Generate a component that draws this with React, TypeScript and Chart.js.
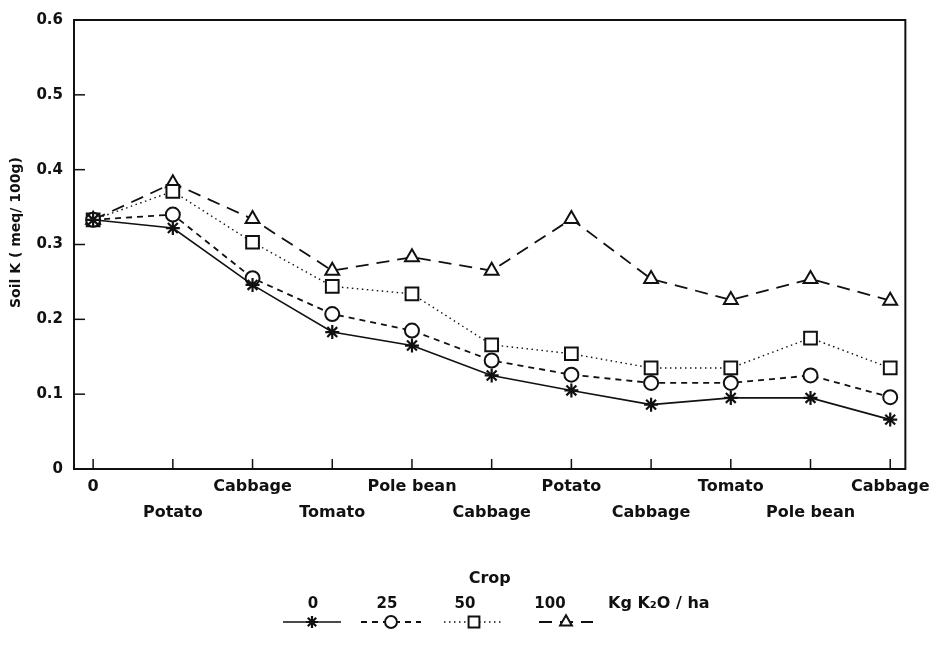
import React, { useEffect, useRef } from "react";
import { Chart, registerables } from "chart.js";
import { drawPoint } from "chart.js/helpers";

Chart.register(...registerables);

// ---- data ----
const cropLabels = ["0", "Potato", "Cabbage", "Tomato", "Pole bean", "Cabbage", "Potato", "Cabbage", "Tomato", "Pole bean", "Cabbage"];
const rate0 = [0.333, 0.322, 0.246, 0.183, 0.165, 0.125, 0.105, 0.086, 0.095, 0.095, 0.066];
const rate25 = [0.333, 0.340, 0.255, 0.207, 0.185, 0.145, 0.126, 0.115, 0.115, 0.125, 0.096];
const rate50 = [0.333, 0.371, 0.303, 0.244, 0.234, 0.166, 0.154, 0.135, 0.135, 0.175, 0.135];
const rate100 = [0.333, 0.382, 0.334, 0.265, 0.283, 0.265, 0.334, 0.254, 0.226, 0.254, 0.225];
const rateLabels = ["0", "25", "50", "100"];
const yTicks = [0, 0.1, 0.2, 0.3, 0.4, 0.5, 0.6];
const yTitle = "Soil K ( meq/ 100g)";
const xTitle = "Crop";
const unitLabel = "Kg K\u2082O / ha";

const FONT = "'DejaVu Sans', sans-serif";
const INK = "#111";

// legend layout (pixels)
const legendTextX = [313, 387, 465, 550];
const legendMarkX = [312, 391, 474, 566];
const legendHalf = [29, 30, 30, 27];
const legendTextY = 604;
const legendLineY = 622;
const unitX = 608;

const toPts = (arr: number[]) => arr.map((y, i) => ({ x: i, y }));

const framePlugin = {
  id: "frameTicksLegend",
  afterDraw(chart: any) {
    const { ctx, chartArea: a, scales } = chart;
    ctx.save();
    ctx.strokeStyle = INK;
    ctx.lineWidth = 2;
    ctx.setLineDash([]);
    ctx.strokeRect(a.left, a.top, a.right - a.left, a.bottom - a.top);
    ctx.lineWidth = 1.5;
    yTicks.forEach((v) => {
      const py = scales.y.getPixelForValue(v);
      ctx.beginPath();
      ctx.moveTo(a.left, py);
      ctx.lineTo(a.left + 11, py);
      ctx.stroke();
    });
    cropLabels.forEach((_, i) => {
      const px = scales.x.getPixelForValue(i);
      ctx.beginPath();
      ctx.moveTo(px, a.bottom);
      ctx.lineTo(px, a.bottom - 10);
      ctx.stroke();
    });

    // y-axis title, drawn slightly above the plot centre as in the original
    ctx.save();
    ctx.fillStyle = INK;
    ctx.font = `bold 14px ${FONT}`;
    ctx.textAlign = "center";
    ctx.textBaseline = "middle";
    ctx.translate(16, scales.y.getPixelForValue(0.316));
    ctx.rotate(-Math.PI / 2);
    ctx.fillText(yTitle, 0, 0);
    ctx.restore();

    // legend
    ctx.fillStyle = INK;
    ctx.font = `bold 15px ${FONT}`;
    ctx.textAlign = "center";
    ctx.textBaseline = "middle";
    chart.data.datasets.forEach((ds: any, i: number) => {
      ctx.fillText(rateLabels[i], legendTextX[i], legendTextY);
      ctx.save();
      ctx.strokeStyle = ds.borderColor;
      ctx.lineWidth = ds.borderWidth;
      ctx.setLineDash(ds.borderDash || []);
      ctx.beginPath();
      ctx.moveTo(legendMarkX[i] - legendHalf[i], legendLineY);
      ctx.lineTo(legendMarkX[i] + legendHalf[i], legendLineY);
      ctx.stroke();
      ctx.setLineDash([]);
      ctx.strokeStyle = ds.pointBorderColor;
      ctx.fillStyle = ds.pointBackgroundColor;
      ctx.lineWidth = ds.pointBorderWidth;
      drawPoint(ctx, { pointStyle: ds.pointStyle, radius: ds.pointRadius * 0.85, borderWidth: ds.pointBorderWidth, rotation: 0 }, legendMarkX[i], legendLineY);
      ctx.restore();
    });
    ctx.textAlign = "left";
    ctx.font = `bold 16px ${FONT}`;
    ctx.fillText(unitLabel, unitX, legendTextY);
    ctx.restore();
  },
};

export default function App() {
  const ref = useRef<HTMLCanvasElement | null>(null);
  useEffect(() => {
    if (!ref.current) return;
    const common = {
      borderColor: INK,
      pointBorderColor: INK,
      pointBackgroundColor: "#fff",
      pointBorderWidth: 2,
      fill: false,
      tension: 0,
    };
    const chart = new Chart(ref.current, {
      type: "line",
      data: {
        datasets: [
          { ...common, label: rateLabels[0], data: toPts(rate0), borderWidth: 1.6, borderDash: [], pointStyle: "star", pointRadius: 7, pointBorderWidth: 2.2 },
          { ...common, label: rateLabels[1], data: toPts(rate25), borderWidth: 1.8, borderDash: [6, 5], pointStyle: "circle", pointRadius: 7 },
          { ...common, label: rateLabels[2], data: toPts(rate50), borderWidth: 1.4, borderDash: [1.5, 3.5], pointStyle: "rect", pointRadius: 9 },
          { ...common, label: rateLabels[3], data: toPts(rate100), borderWidth: 1.8, borderDash: [13, 8], pointStyle: "triangle", pointRadius: 8 },
        ] as any,
      },
      options: {
        animation: false,
        responsive: false,
        devicePixelRatio: 1,
        layout: { padding: { left: 0, right: 28, top: 16, bottom: 0 } },
        plugins: { legend: { display: false }, tooltip: { enabled: false } },
        scales: {
          x: {
            type: "linear",
            min: -0.24,
            max: 10.19,
            grid: { display: false, drawTicks: false },
            border: { display: false },
            afterBuildTicks: (scale: any) => {
              scale.ticks = cropLabels.map((_, i) => ({ value: i }));
            },
            afterFit: (scale: any) => {
              scale.height = 176;
            },
            ticks: {
              autoSkip: false,
              maxRotation: 0,
              minRotation: 0,
              padding: 5,
              color: INK,
              font: { family: FONT, size: 16, weight: "bold", lineHeight: 1.625 },
              callback: (v: any) => {
                const i = Math.round(Number(v));
                return i % 2 === 0 ? cropLabels[i] : ["", cropLabels[i]];
              },
            },
            title: {
              display: true,
              text: xTitle,
              color: INK,
              font: { family: FONT, size: 16, weight: "bold" },
              padding: { top: 0, bottom: 57 },
            },
          },
          y: {
            type: "linear",
            min: 0,
            max: 0.6,
            grid: { display: false, drawTicks: false },
            border: { display: false },
            afterBuildTicks: (scale: any) => {
              scale.ticks = yTicks.map((v) => ({ value: v }));
            },
            afterFit: (scale: any) => {
              scale.width = 74;
            },
            ticks: {
              padding: 11,
              color: INK,
              font: { family: FONT, size: 15, weight: "bold" },
              callback: (v: any) => (Number(v) === 0 ? "0" : Number(v).toFixed(1)),
            },
            title: { display: false },
          },
        },
      } as any,
      plugins: [framePlugin],
    });
    return () => chart.destroy();
  }, []);
  return (
    <div style={{ position: "absolute", left: 0, top: 0, width: 935, height: 645, background: "#fff" }}>
      <canvas ref={ref} width={935} height={645} />
    </div>
  );
}
